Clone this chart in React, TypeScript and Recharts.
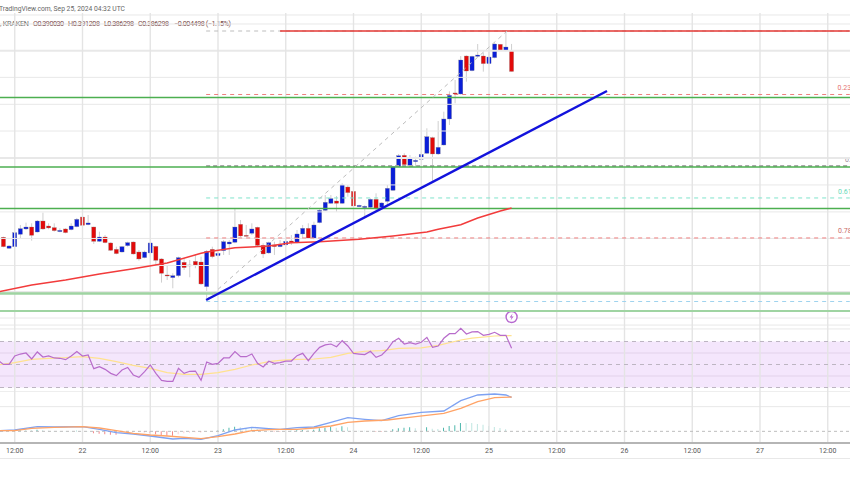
import React from 'react';
import { Bar, Cell, ComposedChart, Line, ReferenceArea, ReferenceDot, ReferenceLine, XAxis, YAxis } from 'recharts';

// hourly candles, hour 0 = Sep 22 00:00 UTC
const firstHour = -14;
const opens = [
  0.35678, 0.35482, 0.35511, 0.35731, 0.35826, 0.35861, 0.35772, 0.35968, 0.35879, 0.3585, 0.35778, 0.35826, 0.35814, 0.35867, 0.36039, 0.35903,
  0.35861, 0.35606, 0.35683, 0.35577, 0.35464, 0.35416, 0.35529, 0.35594, 0.35416, 0.35316, 0.35399, 0.35517, 0.35292, 0.35007, 0.3496, 0.34995,
  0.35233, 0.35185, 0.3525, 0.35238, 0.34799, 0.35464, 0.35351, 0.3544, 0.35559, 0.35589, 0.35909, 0.35713, 0.35749, 0.35856, 0.35535, 0.35399,
  0.35541, 0.35511, 0.35541, 0.35612, 0.35583, 0.35737, 0.35838, 0.3566, 0.35939, 0.36158, 0.36283, 0.36324, 0.36283, 0.36573, 0.36496, 0.36223,
  0.36206, 0.36212, 0.36354, 0.36212, 0.36318, 0.36514, 0.36935, 0.37137, 0.36959, 0.37024, 0.37066, 0.37173, 0.37452, 0.37161, 0.37321, 0.37784,
  0.38247, 0.38229, 0.38905, 0.38644, 0.38899, 0.38905, 0.38769, 0.38876, 0.39113, 0.39, 0.39003,
];
const highs = [
  0.35689, 0.35541, 0.35778, 0.35897, 0.35939, 0.35927, 0.35986, 0.36117, 0.35927, 0.35927, 0.35838, 0.35838, 0.35927, 0.36022, 0.36069, 0.36075,
  0.35867, 0.35778, 0.35719, 0.35589, 0.35511, 0.35523, 0.356, 0.35606, 0.35452, 0.3544, 0.35589, 0.35529, 0.35304, 0.35167, 0.35037, 0.35333,
  0.35304, 0.35274, 0.35381, 0.35333, 0.35452, 0.35511, 0.3544, 0.3563, 0.3563, 0.36194, 0.35986, 0.35897, 0.35927, 0.35867, 0.35571, 0.356,
  0.356, 0.3563, 0.3566, 0.35719, 0.35808, 0.35897, 0.35927, 0.35956, 0.36194, 0.36431, 0.36431, 0.36413, 0.36639, 0.36609, 0.3652, 0.36259,
  0.36247, 0.36372, 0.36461, 0.36301, 0.36609, 0.36947, 0.37161, 0.37173, 0.37143, 0.37113, 0.37202, 0.37618, 0.37469, 0.37748, 0.37914, 0.38276,
  0.38478, 0.38905, 0.38917, 0.38911, 0.39119, 0.38965, 0.38982, 0.39131, 0.39119, 0.3935, 0.3912,
];
const lows = [
  0.355, 0.3547, 0.355, 0.3566, 0.35808, 0.35618, 0.35761, 0.35808, 0.3582, 0.35778, 0.35767, 0.35749, 0.35802, 0.35856, 0.35879, 0.35891,
  0.35559, 0.35594, 0.35571, 0.35434, 0.35375, 0.35405, 0.35511, 0.35369, 0.35262, 0.35304, 0.35333, 0.35167, 0.34871, 0.34918, 0.3477, 0.34966,
  0.35096, 0.34966, 0.35126, 0.34829, 0.3459, 0.35304, 0.35333, 0.35363, 0.35363, 0.35571, 0.35678, 0.35689, 0.35719, 0.35523, 0.3531, 0.35381,
  0.35363, 0.355, 0.35511, 0.35541, 0.35571, 0.3566, 0.35648, 0.35642, 0.35927, 0.36146, 0.36271, 0.36134, 0.36271, 0.36401, 0.36223, 0.36212,
  0.36016, 0.36194, 0.36164, 0.36176, 0.36253, 0.36502, 0.36924, 0.36959, 0.36947, 0.36947, 0.37054, 0.37161, 0.36668, 0.37143, 0.37309, 0.37677,
  0.38063, 0.38217, 0.38448, 0.38632, 0.38882, 0.38626, 0.38757, 0.38864, 0.38994, 0.38988, 0.3863,
];
const closes = [
  0.35511, 0.35523, 0.35761, 0.35832, 0.35861, 0.35713, 0.35968, 0.35826, 0.35844, 0.35796, 0.35802, 0.35761, 0.35879, 0.35998, 0.35891, 0.35933,
  0.35606, 0.35683, 0.35583, 0.35446, 0.35387, 0.35511, 0.35583, 0.35381, 0.35292, 0.35416, 0.35577, 0.35268, 0.35037, 0.34989, 0.34995, 0.35316,
  0.35138, 0.35173, 0.35185, 0.34847, 0.35428, 0.35333, 0.35393, 0.356, 0.35594, 0.35861, 0.35701, 0.35701, 0.35826, 0.35535, 0.35381, 0.35583,
  0.35511, 0.35541, 0.35606, 0.35583, 0.35737, 0.35838, 0.3566, 0.35897, 0.36158, 0.36301, 0.36366, 0.36283, 0.36609, 0.36473, 0.36235, 0.36247,
  0.36229, 0.36354, 0.36188, 0.36289, 0.3655, 0.36935, 0.37131, 0.36971, 0.37078, 0.37048, 0.37155, 0.37469, 0.37161, 0.3728, 0.37784, 0.38205,
  0.38229, 0.38834, 0.38638, 0.38899, 0.38923, 0.38769, 0.38887, 0.39119, 0.39006, 0.39065, 0.3863,
];

const maHours = [-15, -9, -3, 3, 9, 15, 21, 22, 27, 33, 37, 42, 49, 55, 61, 63, 67, 70, 74, 76];
const maValues = [
  0.34704, 0.34829, 0.34918, 0.35025, 0.35119, 0.35221, 0.35393, 0.35416, 0.35493, 0.35523, 0.35582, 0.356, 0.35642, 0.35701, 0.35772, 0.3582, 0.35902,
  0.36022, 0.36146, 0.362,
];

const trendHours = [21.9, 92.9];
const trendPrices = [0.34562, 0.38282];
const swingHours = [21.9, 75.2];
const swingPrices = [0.34562, 0.3935];

const gridPrices = [0.39635, 0.39475, 0.39, 0.38525, 0.38045, 0.3757, 0.3709, 0.3661, 0.3613, 0.35657, 0.35176, 0.34704];
const thickGridPrices = [0.39, 0.3709, 0.34704];
const greenPrices = [0.38167, 0.36929, 0.36191];
const paleGreenPrices = [0.34678, 0.34366];
const resistancePrice = 0.3935;

const fibLabels = ['', '0.236', '0.5', '0.618', '0.786', ''];
const fibPrices = [0.3935, 0.3822, 0.36947, 0.36378, 0.35666, 0.34535];
const fibColors = ['#bdbdbd', '#ef7f7f', '#a9a9a9', '#7fe3cb', '#ef7f7f', '#9fd3ee'];

const rsiStartHour = -15;
const rsiValues = [
  53.9, 50.1, 50.1, 57.4, 59.1, 60.0, 54.8, 60.9, 56.5, 57.4, 55.7, 55.4, 54.2, 57.4, 61.2, 57.4, 58.3, 46.4, 48.1, 45.8, 42.3, 40.3, 45.2, 47.5, 40.9, 38.8,
  43.8, 49.6, 42.3, 36.2, 35.4, 35.4, 46.7, 42.3, 44.1, 44.3, 36.2, 52.2, 50.1, 51.0, 55.7, 55.7, 61.2, 56.8, 56.8, 59.1, 51.0, 47.8, 52.8, 51.0, 51.6, 53.0,
  53.0, 57.7, 59.7, 53.3, 59.7, 64.9, 67.0, 67.8, 65.5, 70.7, 66.1, 59.7, 59.1, 58.6, 61.5, 56.2, 58.3, 63.2, 69.9, 72.8, 67.8, 69.0, 67.8, 69.3, 73.6, 64.9,
  66.1, 72.8, 76.8, 76.8, 81.5, 76.5, 78.3, 78.6, 75.4, 76.2, 78.0, 75.4, 75.4, 64.1,
];
const rsiMaHours = [-15, -12, -9, -6, -3, 0, 3, 6, 9, 12, 15, 18, 21, 24, 27, 30, 33, 35, 38, 41, 44, 47, 50, 53, 56, 60, 63, 67, 69, 73, 76];
const rsiMaValues = [
  49.6, 51.6, 54.5, 55.4, 55.9, 56.8, 55.4, 52.5, 49.3, 46.7, 42.9, 41.4, 41.4, 42.9, 45.8, 49.6, 52.5, 53.6, 54.5, 54.8, 56.2, 59.7, 61.5, 62.0, 64.1, 64.4,
  66.7, 71.3, 73.0, 74.8, 75.1,
];
const rsiGrid = [90.4, 84.3, 80.9, 60, 40, 26.3];

const macdHours = [-15, -12, -8, -5, 0, 3, 6, 9, 12, 16, 18, 21, 24, 27, 30, 33, 35, 38, 41, 44, 47, 50, 53, 56, 60, 64, 67, 70, 73, 75, 76];
const macdValues = [
  0.0002, 0.0004, 0.0014, 0.0013, 0.0014, 0.0006, -0.0004, -0.0008, -0.0014, -0.0023, -0.0021, -0.0024, -0.0013, 0.0004, 0.0012, 0.0008, 0.0006, 0.0011, 0.0013,
  0.0027, 0.0041, 0.0036, 0.0032, 0.0047, 0.0057, 0.0061, 0.0092, 0.0109, 0.0112, 0.0109, 0.0102,
];
const signalHours = [-15, -12, -9, -5, 0, 3, 6, 9, 12, 15, 21, 24, 27, 30, 33, 35, 38, 41, 44, 47, 50, 54, 59, 64, 67, 70, 73, 76];
const signalValues = [
  0.0002, 0.0002, 0.0009, 0.0012, 0.0014, 0.001, 0.0002, -0.0006, -0.0011, -0.0014, -0.0022, -0.0016, -0.0008, 0.0002, 0.0005, 0.0006, 0.0006, 0.001, 0.0016,
  0.0027, 0.0031, 0.0034, 0.0044, 0.0054, 0.0069, 0.0089, 0.0101, 0.0103,
];
const histValues = [
  0.0001, 0.0001, 0.0002, 0.0003, 0.0003, 0.0003, 0.0005, 0.0003, 0.0002, 0.0001, 0.0001, 0.0001, 0.0001, 0.0002, 0.0001, 0.0001, -0.0006, -0.0007, -0.0009,
  -0.001, -0.001, -0.0003, -0.0002, -0.0002, -0.0002, -0.0003, -0.0006, -0.0009, -0.0011, -0.0013, -0.0013, -0.0009, -0.0006, -0.0004, -0.0003, -0.0003,
  -0.0001, 0.0001, 0.0004, 0.0006, 0.0011, 0.0014, 0.0012, 0.001, 0.001, 0.0007, 0.0004, 0.0001, -0.0001, -0.0001, 0.0001, 0.0002, 0.0003, 0.0004, 0.0004,
  0.0005, 0.0009, 0.0011, 0.0014, 0.0011, 0.0015, 0.0012, 0.0003, 0.0002, 0.0002, 0.0002, -0.0001, -0.0001, 0.0001, 0.0006, 0.0009, 0.0011, 0.0012, 0.0009,
  0.0002, 0.0012, 0.0008, 0.0007, 0.0011, 0.0016, 0.0018, 0.0025, 0.0025, 0.0025, 0.0022, 0.002, 0.0016, 0.0013, 0.001, 0.0006, 0.0001,
];
const macdGrid = [0.0074];

const timeTicks = [-12, 0, 12, 24, 36, 48, 60, 72, 84, 96, 108, 120, 132];
const timeLabels = ['12:00', '22', '12:00', '23', '12:00', '24', '12:00', '25', '12:00', '26', '12:00', '27', '12:00'];

const candleRows = opens.map((open, i) => ({
  hour: firstHour + i,
  open,
  close: closes[i],
  high: highs[i],
  low: lows[i],
  range: [lows[i], highs[i]],
}));
const rsiRows = rsiValues.map((rsi, i) => ({ hour: rsiStartHour + i, rsi }));
const histRows = histValues.map((hist, i) => ({ hour: firstHour + i, hist }));
const pairs = (hours: number[], values: number[]) => hours.map((hour, i) => ({ hour, value: values[i] }));

const xDomain: [number, number] = [-14.612, 135.94];
const FONT = 'Roboto, "Liberation Sans", sans-serif';
const GRID = '#e8e8e8';
const VGRID = '#e4e4e4';
const BODY_WIDTH = 4.2;

// price pane is one bar from low to high, body is worked out from the same scale
const Candle = (props: any) => {
  const { x, y, width, height, payload } = props;
  const top = Math.min(y, y + height);
  const span = Math.abs(height);
  const k = span / (payload.high - payload.low);
  const bodyTop = top + (payload.high - Math.max(payload.open, payload.close)) * k;
  const bodyH = Math.max(Math.abs(payload.open - payload.close) * k, 1);
  const color = payload.close >= payload.open ? '#0a1ed8' : '#e20a0a';
  const cx = x + width / 2;
  return (
    <g>
      <line x1={cx} x2={cx} y1={top} y2={top + span} stroke="#cfcfcf" strokeWidth={1} />
      <rect x={cx - BODY_WIDTH / 2} y={bodyTop} width={BODY_WIDTH} height={bodyH} fill={color} stroke="#8a8a8a" strokeWidth={0.3} />
    </g>
  );
};

const Bolt = (props: any) => {
  const { cx, cy } = props;
  return (
    <g>
      <circle cx={cx} cy={cy} r={5.5} fill="#fff" stroke="#b667cf" strokeWidth={1.4} />
      <path d={`M${cx + 1} ${cy - 3.5} L${cx - 2} ${cy + 0.5} L${cx} ${cy + 0.5} L${cx - 1} ${cy + 3.5} L${cx + 2} ${cy - 0.5} L${cx} ${cy - 0.5} Z`} fill="#b667cf" />
    </g>
  );
};

const hiddenX = <XAxis type="number" dataKey="hour" domain={xDomain} allowDataOverflow hide />;

const PriceChart = () => (
  <ComposedChart width={850} height={312} data={candleRows} margin={{ top: 0, right: 0, bottom: 0, left: 0 }}>
    {hiddenX}
    <YAxis type="number" domain={[0.34348, 0.39902]} allowDataOverflow hide />
    {gridPrices.map((p) => (
      <ReferenceLine key={p} y={p} stroke={GRID} strokeWidth={thickGridPrices.includes(p) ? 2 : 1} />
    ))}
    {timeTicks.map((t) => (
      <ReferenceLine key={t} stroke={VGRID} strokeWidth={1.4} segment={[{ x: t, y: 0.39671 }, { x: t, y: 0.34348 }]} />
    ))}
    {fibPrices.map((p, i) => (
      <ReferenceLine
        key={p}
        stroke={fibColors[i]}
        strokeWidth={i === 2 ? 2 : 1}
        strokeDasharray={i === 2 ? '4 3' : '4 4'}
        segment={[{ x: 21.9, y: p }, { x: 135.9, y: p }]}
      />
    ))}
    {greenPrices.map((p) => (
      <ReferenceLine key={p} y={p} stroke="#4caf50" strokeWidth={1.5} />
    ))}
    {paleGreenPrices.map((p, i) => (
      <ReferenceLine key={p} y={p} stroke="#9fd4a2" strokeWidth={i === 0 ? 2.5 : 2} />
    ))}
    <ReferenceLine stroke="#e53935" strokeWidth={1.5} segment={[{ x: 35, y: resistancePrice }, { x: 135.9, y: resistancePrice }]} />
    <Line data={pairs(swingHours, swingPrices)} dataKey="value" stroke="#bdbdbd" strokeWidth={1} strokeDasharray="4 4" dot={false} activeDot={false} isAnimationActive={false} />
    <Line data={pairs(maHours, maValues)} dataKey="value" stroke="#f23b3b" strokeWidth={1.5} dot={false} activeDot={false} isAnimationActive={false} />
    <Bar dataKey="range" barSize={4} shape={<Candle />} isAnimationActive={false} />
    <Line data={pairs(trendHours, trendPrices)} dataKey="value" stroke="#1212dc" strokeWidth={2.4} dot={false} activeDot={false} isAnimationActive={false} />
    <text x={-1} y={11} fontFamily={FONT} fontSize={7.5} fill="#666" textLength={126} lengthAdjust="spacingAndGlyphs">
      TradingView.com, Sep 25, 2024 04:32 UTC
    </text>
    <g fontFamily={FONT} fontSize={7.2} fill="#7a4a4a">
      <text x={0} y={26} fill="#666" textLength={29}>, KRAKEN</text>
      <text x={33} y={26} textLength={31}>O0.390030</text>
      <text x={68} y={26} textLength={32}>H0.391208</text>
      <text x={104} y={26} textLength={30}>L0.386298</text>
      <text x={138} y={26} textLength={31}>C0.386298</text>
      <text x={174} y={26} textLength={57}>−0.004498 (−1.15%)</text>
    </g>
    <text x={837.5} y={90} fontFamily={FONT} fontSize={7} fill="#e57373">{fibLabels[1]}</text>
    <text x={845} y={162} fontFamily={FONT} fontSize={7} fill="#9a8a9a">{fibLabels[2]}</text>
    <text x={838} y={194} fontFamily={FONT} fontSize={7} fill="#66d9b8">{fibLabels[3]}</text>
    <text x={838} y={233} fontFamily={FONT} fontSize={7} fill="#c96a6a">{fibLabels[4]}</text>
  </ComposedChart>
);

const RsiChart = () => (
  <ComposedChart width={850} height={80} data={rsiRows} margin={{ top: 0, right: 0, bottom: 0, left: 0 }}>
    {hiddenX}
    <YAxis type="number" domain={[26.09, 95.65]} allowDataOverflow hide />
    <ReferenceArea y1={30} y2={70} fill="#f4e6fc" fillOpacity={1} stroke="none" />
    {rsiGrid.map((v) => (
      <ReferenceLine key={v} y={v} stroke={v === 60 || v === 40 ? '#e2d2ea' : GRID} />
    ))}
    {timeTicks.map((t) => (
      <ReferenceLine key={t} x={t} stroke={VGRID} strokeWidth={1.4} />
    ))}
    <ReferenceLine y={70} stroke="#bdb5c2" strokeDasharray="4 4" />
    <ReferenceLine y={50} stroke="#bdb5c2" strokeDasharray="4 4" />
    <ReferenceLine y={30} stroke="#bdb5c2" strokeDasharray="4 4" />
    <Line data={pairs(rsiMaHours, rsiMaValues)} dataKey="value" stroke="#ffe28f" strokeWidth={1.2} dot={false} activeDot={false} isAnimationActive={false} />
    <Line dataKey="rsi" stroke="#b86ccb" strokeWidth={1.2} dot={false} activeDot={false} isAnimationActive={false} />
    <ReferenceDot x={76} y={91.3} shape={<Bolt />} />
  </ComposedChart>
);

const MacdChart = () => (
  <ComposedChart width={850} height={86} data={histRows} margin={{ top: 0, right: 0, bottom: 0, left: 0 }}>
    <XAxis
      type="number"
      dataKey="hour"
      domain={xDomain}
      allowDataOverflow
      ticks={timeTicks}
      interval={0}
      height={35}
      tickLine={false}
      axisLine={{ stroke: '#b5b5b5', strokeWidth: 2 }}
      tick={{ fontSize: 7, fill: '#555', fontFamily: FONT, dy: -2 }}
      tickFormatter={(t: number) => timeLabels[timeTicks.indexOf(t)]}
      tickMargin={1}
    />
    <YAxis type="number" domain={[-0.0035, 0.0118]} allowDataOverflow hide />
    {macdGrid.map((v) => (
      <ReferenceLine key={v} y={v} stroke={GRID} />
    ))}
    {timeTicks.map((t) => (
      <ReferenceLine key={t} x={t} stroke={VGRID} strokeWidth={1.4} />
    ))}
    <ReferenceLine y={0} stroke="#bdbdbd" strokeDasharray="3 3" />
    <Bar dataKey="hist" barSize={1} isAnimationActive={false}>
      {histValues.map((v, i) => {
        const rising = i > 0 && v > histValues[i - 1];
        const color = v >= 0 ? (rising ? '#4fb8ad' : '#bfe6e1') : rising ? '#fbd0d3' : '#f2888a';
        return <Cell key={i} fill={color} />;
      })}
    </Bar>
    <Line data={pairs(macdHours, macdValues)} dataKey="value" stroke="#7ea2f2" strokeWidth={1.3} dot={false} activeDot={false} isAnimationActive={false} />
    <Line data={pairs(signalHours, signalValues)} dataKey="value" stroke="#ffa366" strokeWidth={1.3} dot={false} activeDot={false} isAnimationActive={false} />
  </ComposedChart>
);

export default function App() {
  return (
    <div style={{ position: 'absolute', left: 0, top: 0, width: 850, height: 478, background: '#fff', overflow: 'hidden' }}>
      <div style={{ position: 'absolute', top: 0, left: 0 }}><PriceChart /></div>
      <div style={{ position: 'absolute', top: 312, left: 0 }}><RsiChart /></div>
      <div style={{ position: 'absolute', top: 392, left: 0 }}><MacdChart /></div>
      <div style={{ position: 'absolute', top: 458, left: 0, width: 850, height: 1, background: GRID }} />
    </div>
  );
}
